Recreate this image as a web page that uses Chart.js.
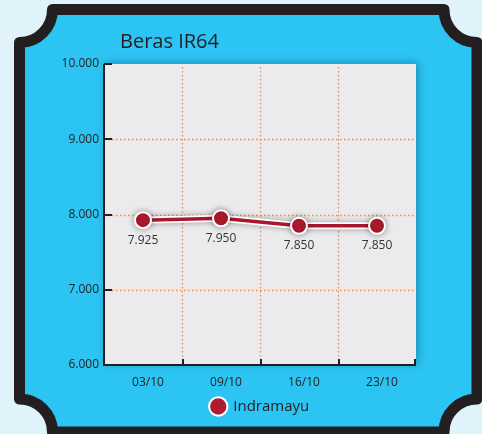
<!DOCTYPE html>
<html>
<head>
<meta charset="utf-8">
<script src="https://cdn.jsdelivr.net/npm/chart.js@4/dist/chart.umd.min.js"></script>
<style>
  html, body { margin: 0; padding: 0; background: #e0f3fb; }
  #wrap { width: 482px; height: 434px; }
</style>
</head>
<body>
<div id="wrap"><canvas id="hargaChart" width="482" height="434"></canvas></div>
<script>
// data harga beras
const judul = "Beras IR64";
const tanggal = ["03/10", "09/10", "16/10", "23/10"];
const hargaIndramayu = [7925, 7950, 7850, 7850];
const namaSeri = "Indramayu";
const skalaY = [6000, 7000, 8000, 9000, 10000];

const fmt = v => String(v).replace(/\B(?=(\d{3})+(?!\d))/g, ".");

Chart.defaults.font.family = "'Open Sans', sans-serif";

const warnaTeks = "#231f20";
const merah = "#b01b2e";

// bingkai biru + area plot + judul
const bingkai = {
    id: "bingkai",
    beforeDraw(chart){
        const {ctx, chartArea: a} = chart;
        ctx.save();
        ctx.fillStyle = "#e0f3fb";
        ctx.fillRect(0, 0, chart.width, chart.height);

        const L = 19.5, T = 9.5, R = 477, B = 432, r = 33;
        ctx.beginPath();
        ctx.moveTo(L + r, T);
        ctx.lineTo(R - r, T);
        ctx.arc(R, T, r, Math.PI, Math.PI / 2, true);
        ctx.lineTo(R, B - r);
        ctx.arc(R, B, r, -Math.PI / 2, -Math.PI, true);
        ctx.lineTo(L + r, B);
        ctx.arc(L, B, r, 0, -Math.PI / 2, true);
        ctx.lineTo(L, T + r);
        ctx.arc(L, T, r, Math.PI / 2, 0, true);
        ctx.closePath();
        ctx.fillStyle = "#2cc4f2";
        ctx.fill();
        ctx.lineWidth = 11;
        ctx.lineJoin = "round";
        ctx.strokeStyle = warnaTeks;
        ctx.stroke();

        // latar area plot dengan bayangan
        ctx.save();
        ctx.shadowColor = "rgba(0,40,80,0.35)";
        ctx.shadowBlur = 8;
        ctx.shadowOffsetX = 2;
        ctx.shadowOffsetY = -1;
        ctx.fillStyle = "#ebebee";
        ctx.fillRect(a.left, a.top, a.right - a.left, a.bottom - a.top);
        ctx.restore();

        ctx.fillStyle = warnaTeks;
        ctx.font = "20px 'Open Sans', sans-serif";
        ctx.textBaseline = "alphabetic";
        ctx.textAlign = "left";
        ctx.fillText(judul, 120, 48);
        ctx.restore();
    },

    // grid titik-titik, garis sumbu dan tick ke dalam
    beforeDatasetsDraw(chart){
        const {ctx, chartArea: a} = chart;
        const sx = chart.scales.x, sy = chart.scales.y;
        const garis = (x1, y1, x2, y2) => {
            ctx.beginPath();
            ctx.moveTo(x1, y1);
            ctx.lineTo(x2, y2);
            ctx.stroke();
        };
        ctx.save();
        ctx.strokeStyle = "#f28a3e";
        ctx.lineWidth = 1.3;
        ctx.setLineDash([1.5, 2.5]);
        skalaY.slice(1, -1).forEach(v => {
            const y = Math.round(sy.getPixelForValue(v)) + 0.5;
            garis(a.left, y, a.right, y);
        });
        const batas = [];
        for(let i = 0; i < tanggal.length - 1; i++){
            batas.push(Math.round((sx.getPixelForTick(i) + sx.getPixelForTick(i + 1)) / 2) + 0.5);
        }
        batas.forEach(x => garis(x, a.top + 3, x, a.bottom));

        ctx.setLineDash([]);
        ctx.strokeStyle = warnaTeks;
        ctx.lineWidth = 2;
        garis(a.left, a.top, a.left, a.bottom + 1);
        garis(a.left - 1, a.bottom, a.right, a.bottom);
        skalaY.forEach(v => {
            const y = Math.round(sy.getPixelForValue(v));
            garis(a.left, y, a.left + 8, y);
        });
        batas.concat([a.right - 1]).forEach(x => garis(Math.round(x), a.bottom, Math.round(x), a.bottom - 6));
        ctx.restore();
    },

    // label nilai di bawah titik
    afterDatasetsDraw(chart){
        const {ctx} = chart;
        const meta = chart.getDatasetMeta(0);
        ctx.save();
        ctx.fillStyle = "#333";
        ctx.font = "12px 'Open Sans', sans-serif";
        ctx.textAlign = "center";
        ctx.textBaseline = "middle";
        meta.data.forEach((pt, i) => {
            ctx.fillText(fmt(hargaIndramayu[i]), pt.x, pt.y + 20);
        });
        ctx.restore();
    }
};

// bayangan untuk titik dan garis putih
const bayangan = {
    id: "bayangan",
    beforeDatasetDraw(chart, args){
        if(args.index === 0 || args.index === 2){
            chart.ctx.save();
            chart.ctx.shadowColor = "rgba(0,0,0,0.35)";
            chart.ctx.shadowBlur = 6;
        }
    },
    afterDatasetDraw(chart, args){
        if(args.index === 0 || args.index === 2){
            chart.ctx.restore();
        }
    }
};

new Chart(document.getElementById("hargaChart"), {
    type: "line",
    data: {
        labels: tanggal,
        datasets: [
            {
                label: namaSeri,
                data: hargaIndramayu,
                showLine: false,
                pointRadius: 8,
                pointHoverRadius: 8,
                pointBorderWidth: 2,
                pointBackgroundColor: merah,
                pointBorderColor: "#fff",
                backgroundColor: merah,
                borderColor: "#fff"
            },
            {
                label: "garis",
                data: hargaIndramayu,
                borderColor: "#a8182c",
                borderWidth: 3.5,
                pointRadius: 0,
                tension: 0
            },
            {
                label: "halo",
                data: hargaIndramayu,
                borderColor: "#fff",
                borderWidth: 7,
                pointRadius: 0,
                tension: 0
            }
        ]
    },
    options: {
        responsive: false,
        animation: false,
        events: [],
        layout: { padding: { top: 64, left: 50, right: 66, bottom: 10 } },
        plugins: {
            title: { display: false },
            tooltip: { enabled: false },
            legend: {
                position: "bottom",
                fullSize: false,
                labels: {
                    usePointStyle: true,
                    pointStyle: "circle",
                    boxHeight: 13,
                    padding: 6,
                    color: warnaTeks,
                    font: { size: 15 },
                    filter: item => item.datasetIndex === 0
                }
            }
        },
        scales: {
            x: {
                offset: true,
                grid: { display: false, drawTicks: false },
                border: { display: false },
                ticks: { color: warnaTeks, font: { size: 12 }, padding: 10, labelOffset: 5 },
                afterFit: s => { s.height = 28; }
            },
            y: {
                min: 6000,
                max: 10000,
                grid: { display: false, drawTicks: false },
                border: { display: false },
                ticks: {
                    stepSize: 1000,
                    color: warnaTeks,
                    font: { size: 12 },
                    padding: 5,
                    callback: v => fmt(v)
                },
                afterFit: s => { s.width = 54; }
            }
        }
    },
    plugins: [bingkai, bayangan]
});
</script>
</body>
</html>
